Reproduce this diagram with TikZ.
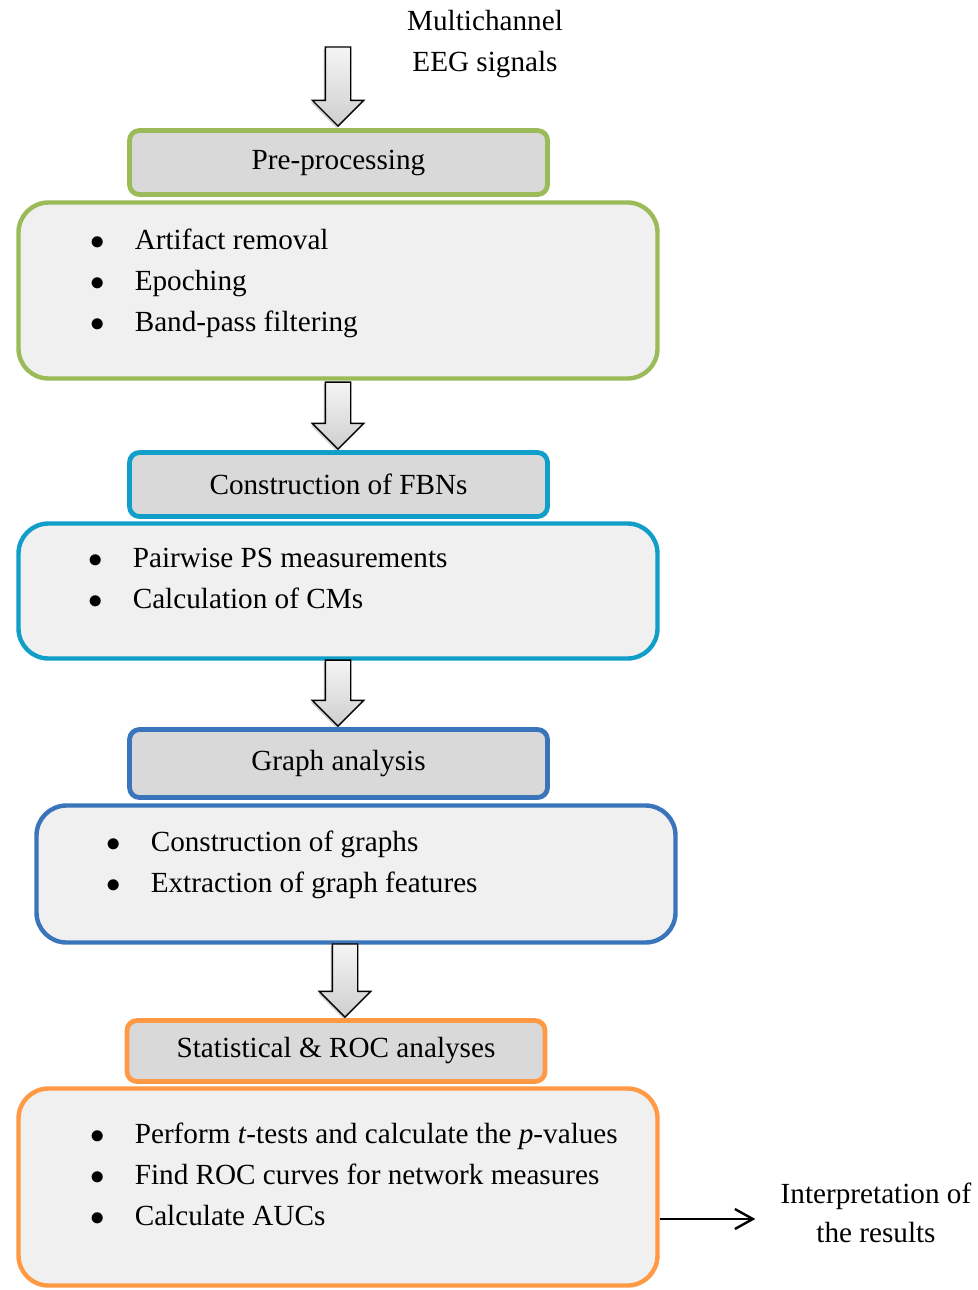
\documentclass[tikz,border=0pt]{standalone}
\usepackage{fontspec}
\setmainfont{Liberation Serif}
\usetikzlibrary{shapes.arrows,shadows,arrows.meta,calc}

\definecolor{stepgreen}{HTML}{9BBB59}
\definecolor{stepcyan}{HTML}{119FC9}
\definecolor{stepblue}{HTML}{3A74BA}
\definecolor{steporange}{HTML}{FF9944}

\begin{document}
\begin{tikzpicture}[x=0.5pt, y=-0.5pt,
    font=\fontsize{14.6}{20.5}\selectfont,
    headbox/.style={rectangle, rounded corners=5pt, draw, line width=2.4pt, fill=gray!30, minimum width=209pt},
    bodybox/.style={rectangle, rounded corners=15pt, draw, line width=2.2pt, fill=gray!12, minimum width=319.5pt},
    blockarrow/.style={single arrow, draw=black, line width=0.7pt, shape border rotate=270,
        single arrow head extend=6.5pt, inner sep=6pt, anchor=tip,
        top color=gray!8, bottom color=gray!38,
        drop shadow={shadow xshift=-0.8pt, shadow yshift=-1pt, opacity=0.35}},
    listtext/.style={anchor=west, inner sep=0pt, align=left}]
    \useasboundingbox (0,0) rectangle (978,1290);

    % Define nodes
    \node [align=center, inner sep=0pt] (eeg) at (485,44) {Multichannel\\EEG signals};

    \node [headbox, draw=stepgreen, minimum height=32pt] (pre) at (338.5,162.5) {Pre-processing};
    \node [bodybox, draw=stepgreen, minimum height=88pt] (prebody) at (338,290.5) {};
    \node [listtext] (prelist) at (90,282) {\begin{tabular}{@{}l@{\hspace{15pt}}l@{}}
        $\bullet$ & Artifact removal\\
        $\bullet$ & Epoching\\
        $\bullet$ & Band-pass filtering
    \end{tabular}};

    \node [headbox, draw=stepcyan, minimum height=32pt] (fbn) at (338.5,484.5) {Construction of FBNs};
    \node [bodybox, draw=stepcyan, minimum height=67.5pt] (fbnbody) at (338,591) {};
    \node [listtext] (fbnlist) at (88,580) {\begin{tabular}{@{}l@{\hspace{15pt}}l@{}}
        $\bullet$ & Pairwise PS measurements\\
        $\bullet$ & Calculation of CMs
    \end{tabular}};

    \node [headbox, draw=stepblue, minimum height=34pt] (graph) at (338.5,763.5) {Graph analysis};
    \node [bodybox, draw=stepblue, minimum height=68.5pt] (graphbody) at (356,874) {};
    \node [listtext] (graphlist) at (106,863.5) {\begin{tabular}{@{}l@{\hspace{15pt}}l@{}}
        $\bullet$ & Construction of graphs\\
        $\bullet$ & Extraction of graph features
    \end{tabular}};

    \node [headbox, draw=steporange, minimum height=30.5pt] (stat) at (336,1051) {Statistical \& ROC analyses};
    \node [bodybox, draw=steporange, minimum height=98.5pt] (statbody) at (338,1187) {};
    \node [listtext] (statlist) at (90,1176) {\begin{tabular}{@{}l@{\hspace{15pt}}l@{}}
        $\bullet$ & Perform \textit{t}-tests and calculate the \textit{p}-values\\
        $\bullet$ & Find ROC curves for network measures\\
        $\bullet$ & Calculate AUCs
    \end{tabular}};

    \node [align=center, inner sep=0pt, font=\fontsize{14.6}{19.5}\selectfont] (result) at (876,1213) {Interpretation of\\the results};

    % Block arrows between the stages
    \node [blockarrow, minimum height=39.5pt] (arr1) at (338,127) {};
    \node [blockarrow, minimum height=33.5pt] (arr2) at ([xshift=-0.25pt]fbn.north) {};
    \node [blockarrow, minimum height=33pt] (arr3) at ([xshift=-0.25pt]graph.north) {};
    \node [blockarrow, minimum height=36.5pt] (arr4) at (345,1018) {};

    % Draw edges
    \draw [-{Straight Barb[length=9pt,width=10pt]}, line width=1.2pt]
        ([yshift=-16pt]statbody.east) -- ([xshift=-12.5pt,yshift=-3pt]result.west);
\end{tikzpicture}
\end{document}
